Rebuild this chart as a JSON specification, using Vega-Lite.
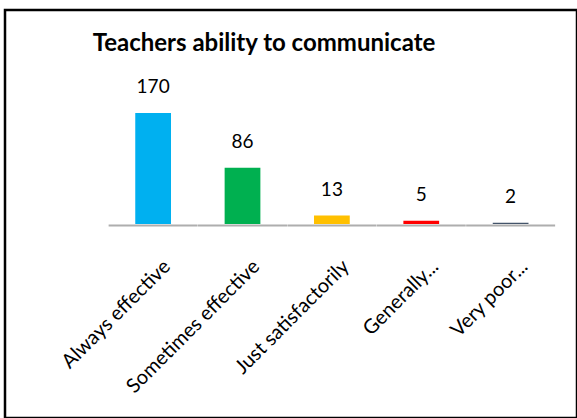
{
  "$schema": "https://vega.github.io/schema/vega-lite/v6.json",
  "width": 572,
  "height": 408,
  "autosize": {"type": "none"},
  "padding": {"left": 5, "top": 10, "right": 0, "bottom": 0},
  "background": "white",
  "config": {
    "view": {"stroke": "black", "strokeWidth": 2.5},
    "font": "Lato"
  },
  "title": {
    "text": "Teachers ability to communicate",
    "anchor": "middle",
    "frame": "group",
    "dx": -27,
    "dy": 50,
    "fontSize": 24,
    "fontWeight": "bold",
    "font": "Lato",
    "color": "black"
  },
  "data": {
    "values": [
      {"category": "Always effective", "count": 170},
      {"category": "Sometimes effective", "count": 86},
      {"category": "Just satisfactorily", "count": 13},
      {"category": "Generally...", "count": 5},
      {"category": "Very poor...", "count": 2}
    ]
  },
  "encoding": {
    "x": {
      "field": "category",
      "type": "nominal",
      "sort": null,
      "scale": {"paddingInner": 0.6, "paddingOuter": 1.0225, "align": 0.7287},
      "axis": {
        "title": null,
        "domain": false,
        "ticks": false,
        "grid": false,
        "labelAngle": -45,
        "labelFontSize": 20,
        "labelFont": "Lato",
        "labelColor": "black",
        "labelLimit": 0,
        "offset": -194,
        "labelPadding": 32,
        "labelOffset": 7
      }
    }
  },
  "layer": [
    {
      "mark": {"type": "bar"},
      "encoding": {
        "y": {
          "field": "count",
          "type": "quantitative",
          "scale": {"domain": [-297.1, 327.7], "nice": false, "zero": false},
          "axis": null
        },
        "y2": {"datum": 0},
        "color": {
          "field": "category",
          "type": "nominal",
          "sort": null,
          "scale": {
            "domain": ["Always effective", "Sometimes effective", "Just satisfactorily", "Generally...", "Very poor..."],
            "range": ["#00B0F0", "#00B050", "#FFC000", "#FF0000", "#44546A"]
          },
          "legend": null
        }
      }
    },
    {
      "mark": {"type": "tick", "orient": "horizontal", "size": 89, "thickness": 2, "color": "#8c8c8c"},
      "encoding": {
        "y": {"datum": -2.3, "type": "quantitative"}
      }
    },
    {
      "mark": {"type": "text", "baseline": "alphabetic", "dy": -20, "fontSize": 19, "font": "Lato", "color": "black"},
      "encoding": {
        "y": {"field": "count", "type": "quantitative"},
        "text": {"field": "count", "type": "quantitative"}
      }
    }
  ]
}
